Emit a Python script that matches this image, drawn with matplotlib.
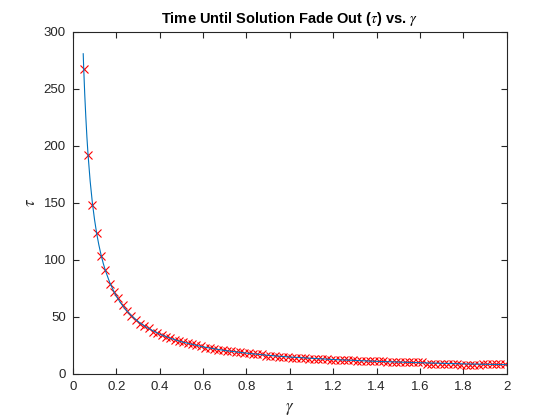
import matplotlib
matplotlib.use('Agg')
import matplotlib.pyplot as plt

# measured points (gamma, tau)
gamma_pts = [0.05, 0.07, 0.09, 0.11, 0.13, 0.15, 0.17, 0.19, 0.21, 0.23,
             0.25, 0.27, 0.29, 0.31, 0.33, 0.35, 0.37, 0.39, 0.41, 0.43,
             0.45, 0.47, 0.49, 0.51, 0.53, 0.55, 0.57, 0.59, 0.61, 0.63,
             0.65, 0.67, 0.69, 0.71, 0.73, 0.75, 0.77, 0.79, 0.81, 0.83,
             0.85, 0.87, 0.89, 0.91, 0.93, 0.95, 0.97, 0.99, 1.01, 1.03,
             1.05, 1.07, 1.09, 1.11, 1.13, 1.15, 1.17, 1.19, 1.21, 1.23,
             1.25, 1.27, 1.29, 1.31, 1.33, 1.35, 1.37, 1.39, 1.41, 1.43,
             1.45, 1.47, 1.49, 1.51, 1.53, 1.55, 1.57, 1.59, 1.61, 1.63,
             1.65, 1.67, 1.69, 1.71, 1.73, 1.75, 1.77, 1.79, 1.81, 1.83,
             1.85, 1.87, 1.89, 1.91, 1.93, 1.95, 1.97, 1.99]
tau_pts = [267, 192, 148, 123, 103, 91, 79, 72, 66, 60,
           55, 51, 47, 44, 42, 40, 37, 36, 34, 32,
           31, 30, 29, 28, 27, 26, 25, 24, 23, 23,
           22, 21, 21, 20, 20, 19, 19, 18, 18, 17,
           17, 17, 16, 16, 16, 15, 15, 15, 14, 14,
           14, 14, 13, 13, 13, 13, 13, 12, 12, 12,
           12, 12, 12, 11, 11, 11, 11, 11, 11, 11,
           10, 10, 10, 10, 10, 10, 10, 10, 10, 9,
           9, 9, 9, 9, 9, 9, 9, 8, 8, 8,
           8, 8, 9, 9, 9, 9, 9, 9]

# fitted curve
gamma_fit = [0.048, 0.05, 0.055, 0.06, 0.065, 0.07, 0.08, 0.09, 0.10, 0.11,
             0.12, 0.13, 0.14, 0.15, 0.17, 0.19, 0.21, 0.23, 0.25, 0.28,
             0.31, 0.35, 0.40, 0.45, 0.50, 0.60, 0.70, 0.80, 0.90, 1.0,
             1.2, 1.4, 1.6, 1.8, 2.0]
tau_fit = [280.5, 269.0, 245.0, 225.0, 207.5, 192.7, 168.8, 150.2, 135.3, 123.1,
           113.0, 104.4, 97.0, 90.6, 80.1, 71.8, 65.1, 59.6, 54.9, 49.2,
           44.5, 39.6, 34.8, 31.1, 28.1, 23.6, 20.4, 18.1, 16.2, 14.7,
           12.5, 10.9, 9.7, 8.7, 8.0]

plt.rcParams['font.family'] = ['Liberation Sans', 'DejaVu Sans']
plt.rcParams['mathtext.fontset'] = 'stix'

fig = plt.figure(figsize=(5.6, 4.2), dpi=100)
ax = fig.add_axes([0.13, 0.11, 0.775, 0.815])

ax.plot(gamma_pts, tau_pts, 'x', color='red', markersize=5.2, markeredgewidth=0.8)
ax.plot(gamma_fit, tau_fit, color=(0, 0.447, 0.741), linewidth=0.8)

ax.set_xlim(0, 2)
ax.set_ylim(0, 300)
ax.set_xticks([0, 0.2, 0.4, 0.6, 0.8, 1, 1.2, 1.4, 1.6, 1.8, 2])
ax.set_xticklabels(['0', '0.2', '0.4', '0.6', '0.8', '1', '1.2', '1.4', '1.6', '1.8', '2'])
ax.set_yticks([0, 50, 100, 150, 200, 250, 300])

dark = (0.15, 0.15, 0.15)
for s in ax.spines.values():
    s.set_color(dark)
    s.set_linewidth(0.8)
ax.tick_params(direction='in', top=True, right=True, length=4, width=0.8,
               colors=dark, labelsize=9.5, pad=5)

ax.set_title(r'Time Until Solution Fade Out ($\tau$) vs. $\gamma$',
             fontsize=10.5, fontweight='bold', color='black', pad=6)
ax.set_xlabel(r'$\gamma$', fontsize=12, color=dark, labelpad=6)
ax.set_ylabel(r'$\tau$', fontsize=12, color=dark, labelpad=4)

fig.savefig('out.png', dpi=100)
